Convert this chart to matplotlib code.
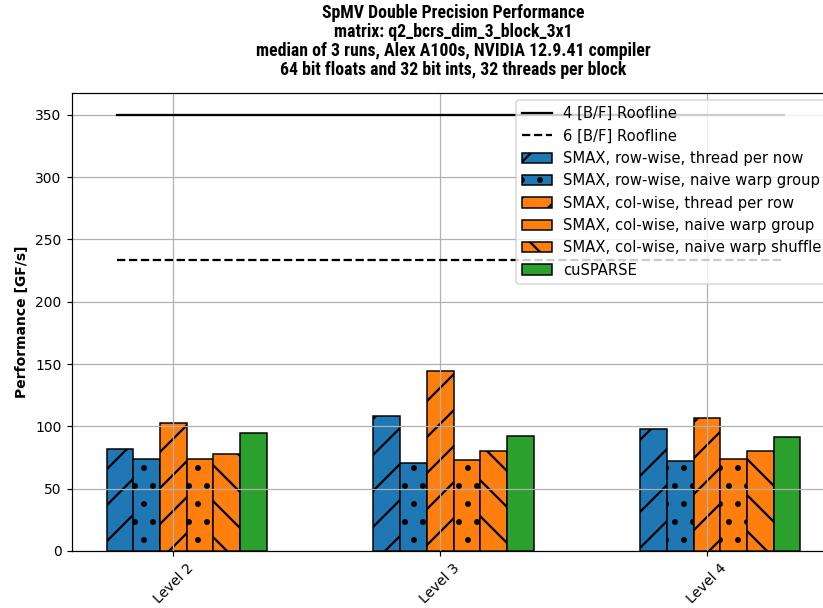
import numpy as np
import matplotlib
matplotlib.use('Agg')
import matplotlib.pyplot as plt

levels = ['Level 2', 'Level 3', 'Level 4']

row_thread = [82, 108.5, 98]
row_warp = [73.5, 70.5, 72]
col_thread = [103, 144.5, 107]
col_warp = [74, 73, 74]
col_shuffle = [77.5, 80.3, 80.5]
cusparse = [94.5, 92.5, 91.5]

roof_4 = 350.0
roof_6 = 233.3
roof_x = [-0.21, 2.29]

series = [
    ('SMAX, row-wise, thread per now', row_thread, '#1f77b4', '/'),
    ('SMAX, row-wise, naive warp group', row_warp, '#1f77b4', '.'),
    ('SMAX, col-wise, thread per row', col_thread, '#ff7f0e', '/'),
    ('SMAX, col-wise, naive warp group', col_warp, '#ff7f0e', '.'),
    ('SMAX, col-wise, naive warp shuffle', col_shuffle, '#ff7f0e', '\\'),
    ('cuSPARSE', cusparse, '#2ca02c', ''),
]

plt.rcParams['hatch.linewidth'] = 1.5

dpi = 108
fs = 10 * 100 / dpi
fig = plt.figure(figsize=(823 / dpi, 608 / dpi), dpi=dpi)
ax = fig.add_axes([72 / 823, 57 / 608, (835 - 72) / 823, (551 - 93) / 608])

x = np.arange(len(levels))
width = 0.1

ax.plot(roof_x, [roof_4, roof_4], 'k-', lw=1.5, label='4 [B/F] Roofline')
ax.plot(roof_x, [roof_6, roof_6], 'k--', lw=1.5, label='6 [B/F] Roofline')

for i, (name, vals, col, hatch) in enumerate(series):
    ax.bar(x + (i - 2) * width, vals, width, color=col, edgecolor='black',
           hatch=hatch, label=name)

ax.set_xticks(x)
ax.set_xticklabels(levels, rotation=45, fontsize=fs)
ax.tick_params(axis='y', labelsize=fs)
ax.set_ylabel('Performance [GF/s]', fontweight='bold', fontsize=fs)
# condensed bold face, the title in the original is narrow
ax.set_title('SpMV Double Precision Performance\n'
             'matrix: q2_bcrs_dim_3_block_3x1\n'
             'median of 3 runs, Alex A100s, NVIDIA 12.9.41 compiler\n'
             '64 bit floats and 32 bit ints, 32 threads per block',
             fontweight='bold', fontsize=11.8, family='Roboto Condensed',
             linespacing=1.08, pad=12)
ax.grid(True)
ax.legend(loc='upper right', fontsize=9.8)

fig.savefig('out.png', dpi=dpi)
